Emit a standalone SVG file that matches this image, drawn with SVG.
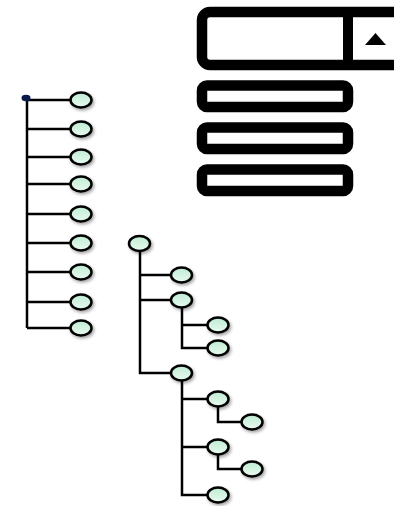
<svg xmlns="http://www.w3.org/2000/svg" width="394" height="506" viewBox="0 0 394 506">
<defs>
<linearGradient id="g" x1="0" y1="0" x2="0" y2="1">
<stop offset="0" stop-color="#bfecd3"/>
<stop offset="1" stop-color="#e8faef"/>
</linearGradient>
<filter id="sh" x="-50%" y="-50%" width="200%" height="200%">
<feDropShadow dx="1.5" dy="2" stdDeviation="1.5" flood-color="#000" flood-opacity="0.35"/>
</filter>
</defs>
<style>
.n{fill:url(#g);stroke:#000;stroke-width:2.5;filter:url(#sh)}
.c{fill:none;stroke:#000;stroke-width:2.5}
.w{fill:#fff;stroke:#000;stroke-width:10.5}
</style>
<g id="widget">
<rect class="w" x="202" y="12" width="210" height="53" rx="8"/>
<line x1="348" y1="12" x2="348" y2="65" stroke="#000" stroke-width="10"/>
<polygon points="365,45 386,45 375.5,33" fill="#000"/>
<rect class="w" x="202" y="85.5" width="146" height="21.5" rx="5"/>
<rect class="w" x="202" y="127.5" width="146" height="21.5" rx="5"/>
<rect class="w" x="202" y="169.5" width="146" height="21.5" rx="5"/>
</g>
<g id="connectors">
<path class="c" d="M27,98 V328 M27,100 H70 M27,129 H70 M27,157 H70 M27,184 H70 M27,214 H70 M27,243 H70 M27,272 H70 M27,302 H70 M27,328 H70"/>
<path class="c" d="M140,251 V373 H171 M140,275 H171 M140,300 H171 M182,300 V348 H208 M182,325 H208 M182,373 V495 H208 M182,399 H208 M182,447 H208 M218,399 V422 H242 M218,447 V469 H242"/>
</g>
<g id="root1"><ellipse cx="26" cy="98" rx="4.5" ry="3.2" fill="#0b1a4d"/></g>
<g id="n1"><ellipse class="n" cx="81" cy="100" rx="10.5" ry="7.5"/></g>
<g id="n2"><ellipse class="n" cx="81" cy="129" rx="10.5" ry="7.5"/></g>
<g id="n3"><ellipse class="n" cx="81" cy="157" rx="10.5" ry="7.5"/></g>
<g id="n4"><ellipse class="n" cx="81" cy="184" rx="10.5" ry="7.5"/></g>
<g id="n5"><ellipse class="n" cx="81" cy="214" rx="10.5" ry="7.5"/></g>
<g id="n6"><ellipse class="n" cx="81" cy="243" rx="10.5" ry="7.5"/></g>
<g id="n7"><ellipse class="n" cx="81" cy="272" rx="10.5" ry="7.5"/></g>
<g id="n8"><ellipse class="n" cx="81" cy="302" rx="10.5" ry="7.5"/></g>
<g id="n9"><ellipse class="n" cx="81" cy="328" rx="10.5" ry="7.5"/></g>
<g id="t0"><ellipse class="n" cx="139.5" cy="243.5" rx="10.5" ry="7.5"/></g>
<g id="t1"><ellipse class="n" cx="181.5" cy="275" rx="10.5" ry="7.5"/></g>
<g id="t2"><ellipse class="n" cx="181.5" cy="300" rx="10.5" ry="7.5"/></g>
<g id="t21"><ellipse class="n" cx="218" cy="325" rx="10.5" ry="7.5"/></g>
<g id="t22"><ellipse class="n" cx="218" cy="348" rx="10.5" ry="7.5"/></g>
<g id="t3"><ellipse class="n" cx="181.5" cy="373" rx="10.5" ry="7.5"/></g>
<g id="t31"><ellipse class="n" cx="218" cy="399" rx="10.5" ry="7.5"/></g>
<g id="t311"><ellipse class="n" cx="252" cy="422" rx="10.5" ry="7.5"/></g>
<g id="t32"><ellipse class="n" cx="218" cy="447" rx="10.5" ry="7.5"/></g>
<g id="t321"><ellipse class="n" cx="252" cy="469" rx="10.5" ry="7.5"/></g>
<g id="t33"><ellipse class="n" cx="218" cy="495" rx="10.5" ry="7.5"/></g>
</svg>
